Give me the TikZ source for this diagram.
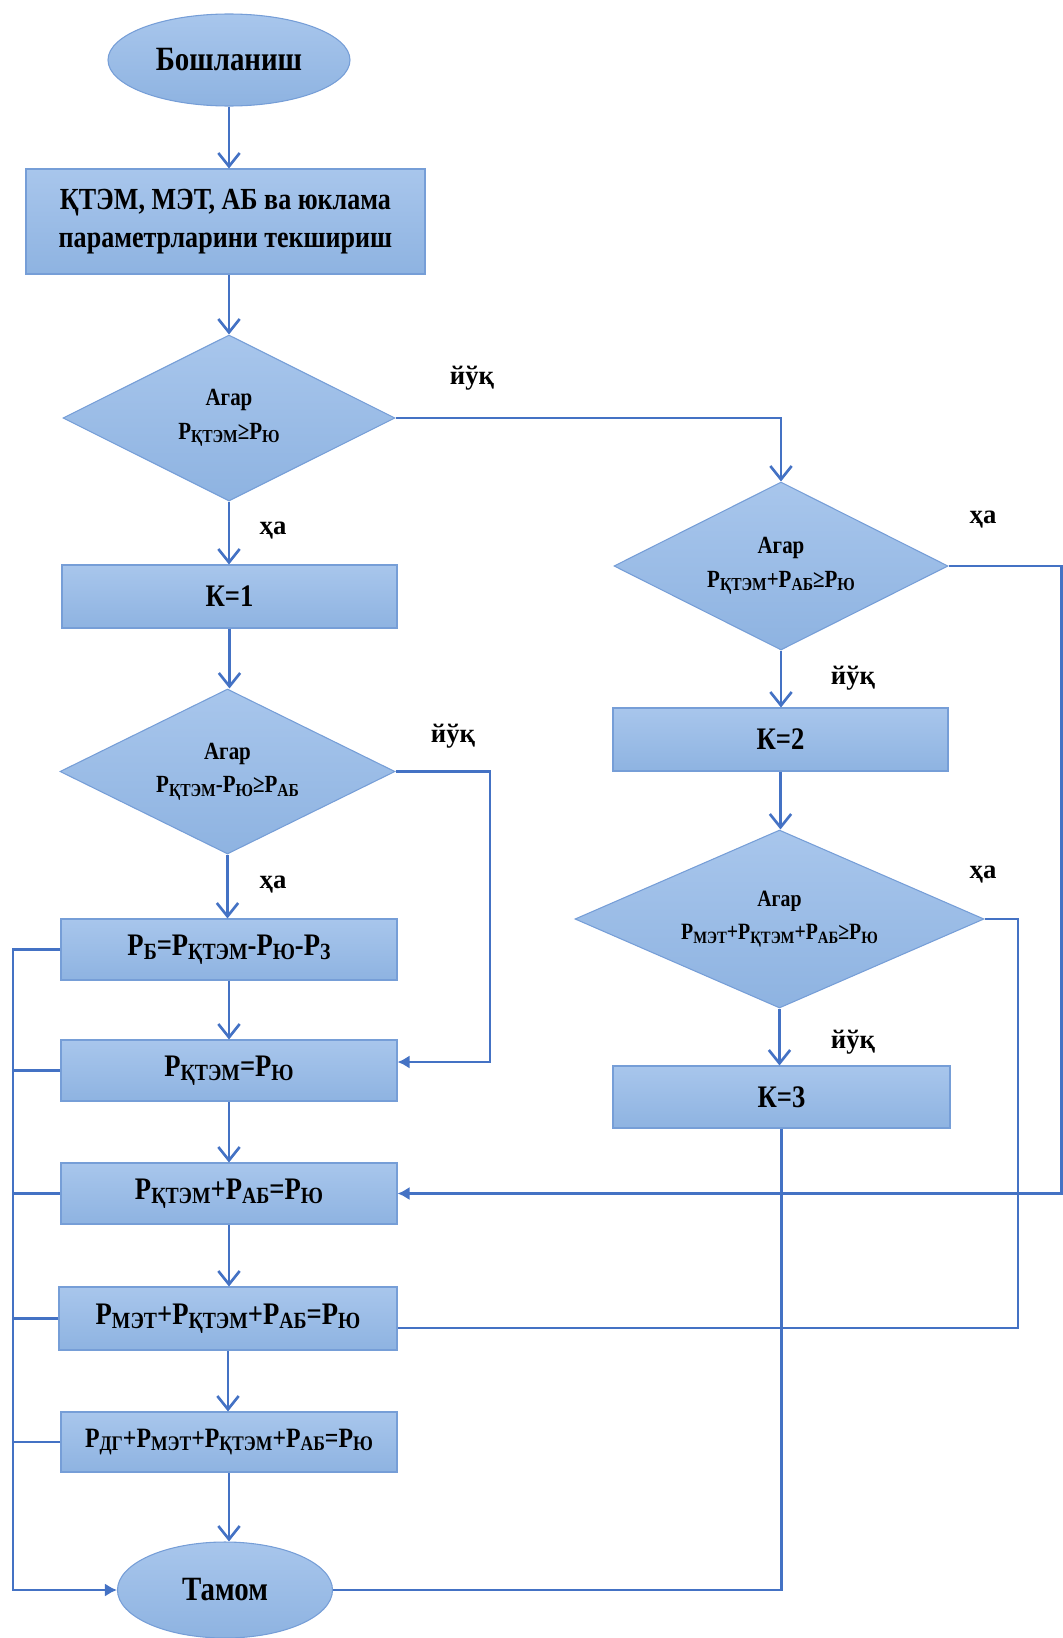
\documentclass[tikz,border=0pt]{standalone}
\usepackage{fontspec}
\usepackage{graphicx}
\setmainfont{Liberation Serif}
\newfontfamily\cond{Liberation Serif}[FakeStretch=0.85]
\usetikzlibrary{shapes.geometric,arrows.meta,calc}
\definecolor{lineblue}{RGB}{68,114,196}
\definecolor{fillA}{RGB}{168,198,236}
\definecolor{fillB}{RGB}{142,179,225}
\definecolor{edgeblue}{RGB}{118,158,215}
\newcommand\fsz[2]{\fontsize{#1}{#2}\selectfont}
\newcommand\sbs[1]{\raisebox{-0.3ex}{\scalebox{0.74}{#1}}}
\begin{document}
\begin{tikzpicture}[x=0.75pt,y=-0.75pt,
  shaded/.style={draw=edgeblue,line width=0.8pt,top color=fillA,bottom color=fillB,inner sep=0pt,align=center},
  boxn/.style={shaded,rectangle,minimum width=252pt,minimum height=45.75pt,font=\cond\bfseries\fsz{23.5}{26}},
  dia/.style={shaded,diamond,aspect=2,font=\cond\bfseries\fsz{18.5}{25}},
  term/.style={shaded,ellipse,font=\cond\bfseries\fsz{25.5}{28}},
  lab/.style={font=\bfseries\fsz{20}{22}},
  flow/.style={draw=lineblue,line width=2pt},
  down/.style={flow,-{Straight Barb[length=10pt,width=16pt]}},
  side/.style={flow,-{Latex[length=9pt,width=10pt]}}]
\useasboundingbox (0,0) rectangle (1063,1638);

% left column
\node[term,minimum width=181.5pt,minimum height=69pt] (start) at (229,60) {Бошланиш};
\node[boxn,minimum width=299.25pt,minimum height=78.75pt,font=\cond\bfseries\fsz{23}{28}] (inp) at (225.5,221.5) {ҚТЭМ, МЭТ, АБ ва юклама\\параметрларини текшириш};
\node[dia,minimum width=249pt,minimum height=124.5pt] (d1) at (229,418) {Агар\\Р\sbs{ҚТЭМ}≥Р\sbs{Ю}};
\node[boxn,minimum width=251.25pt,minimum height=47.25pt] (k1) at (229.5,596.5) {К=1};
\node[dia,minimum width=251.25pt,minimum height=123.75pt] (d2) at (227.5,771.5) {Агар\\Р\sbs{ҚТЭМ}-Р\sbs{Ю}≥Р\sbs{АБ}};
\node[boxn] (pb) at (229,949.5) {Р\sbs{Б}=Р\sbs{ҚТЭМ}-Р\sbs{Ю}-Р\sbs{З}};
\node[boxn] (pk) at (229,1070.5) {Р\sbs{ҚТЭМ}=Р\sbs{Ю}};
\node[boxn] (pka) at (229,1193.5) {Р\sbs{ҚТЭМ}+Р\sbs{АБ}=Р\sbs{Ю}};
\node[boxn,minimum width=253.5pt,minimum height=47.25pt] (pm) at (228,1318.5) {Р\sbs{МЭТ}+Р\sbs{ҚТЭМ}+Р\sbs{АБ}=Р\sbs{Ю}};
\node[boxn,minimum height=45pt,font=\cond\bfseries\fsz{21}{24}] (pd) at (229,1442) {Р\sbs{ДГ}+Р\sbs{МЭТ}+Р\sbs{ҚТЭМ}+Р\sbs{АБ}=Р\sbs{Ю}};
\node[term,minimum width=161.25pt,minimum height=72pt] (fin) at (225,1590) {Тамом};

% right column
\node[dia,minimum width=250.5pt,minimum height=126pt] (r1) at (781,566) {Агар\\Р\sbs{ҚТЭМ}+Р\sbs{АБ}≥Р\sbs{Ю}};
\node[boxn,minimum width=251.25pt,minimum height=47.25pt] (k2) at (780.5,739.5) {К=2};
\node[dia,minimum width=306.75pt,minimum height=133.5pt,font=\cond\bfseries\fsz{17.5}{25}] (r2) at (779.5,919) {Агар\\Р\sbs{МЭТ}+Р\sbs{ҚТЭМ}+Р\sbs{АБ}≥Р\sbs{Ю}};
\node[boxn,minimum width=252.75pt,minimum height=46.5pt] (k3) at (781.5,1097) {К=3};

% branch labels
\node[lab] (l1) at (472,378) {йўқ};
\node[lab] (l2) at (273,531) {ҳа};
\node[lab] (l3) at (983,520) {ҳа};
\node[lab] (l4) at (853,678) {йўқ};
\node[lab] (l5) at (453,736) {йўқ};
\node[lab] (l6) at (273,885) {ҳа};
\node[lab] (l7) at (983,875) {ҳа};
\node[lab] (l8) at (853,1042) {йўқ};

% main flow
\draw[down] (start.south) -- (start.south |- inp.north);
\draw[down] (inp.south -| d1.north) -- (d1.north);
\draw[down] (d1.south) -- (k1.north -| d1.south);
\draw[down] (k1.south) -- (k1.south |- d2.north);
\draw[down] (d2.south) -- (d2.south |- pb.north);
\draw[down] (pb.south) -- (pk.north);
\draw[down] (pk.south) -- (pka.north);
\draw[down] (pka.south) -- (pka.south |- pm.north);
\draw[down] (pm.south) -- (pm.south |- pd.north);
\draw[down] (pd.south) -- (pd.south |- fin.north);

\draw[down] (d1.east) -| (r1.north);
\draw[down] (r1.south) -- (r1.south |- k2.north);
\draw[down] (k2.south) -- (k2.south |- r2.north);
\draw[down] (r2.south) -- (r2.south |- k3.north);

% return branches
\coordinate (c2) at (490,1062);
\draw[side] (d2.east) -| (c2) -- (c2 -| pk.east);
\coordinate (c3) at (1061.5,1193.5);
\draw[side] (r1.east) -| (c3) -- (pka.east);
\coordinate (c4) at (1018,1328);
\draw[flow] (r2.east) -| (c4) -- (c4 -| pm.east);
\draw[flow] (k3.south) |- (fin.east);

% left collecting bus
\coordinate (bt) at (13,949.5);
\coordinate (bb) at (13,1590);
\draw[side] (pb.west) -- (bt) -- (bb) -- (fin.west);
\draw[flow] (pk.west) -- (pk.west -| bt);
\draw[flow] (pka.west) -- (pka.west -| bt);
\draw[flow] (pm.west) -- (pm.west -| bt);
\draw[flow] (pd.west) -- (pd.west -| bt);
\end{tikzpicture}
\end{document}
